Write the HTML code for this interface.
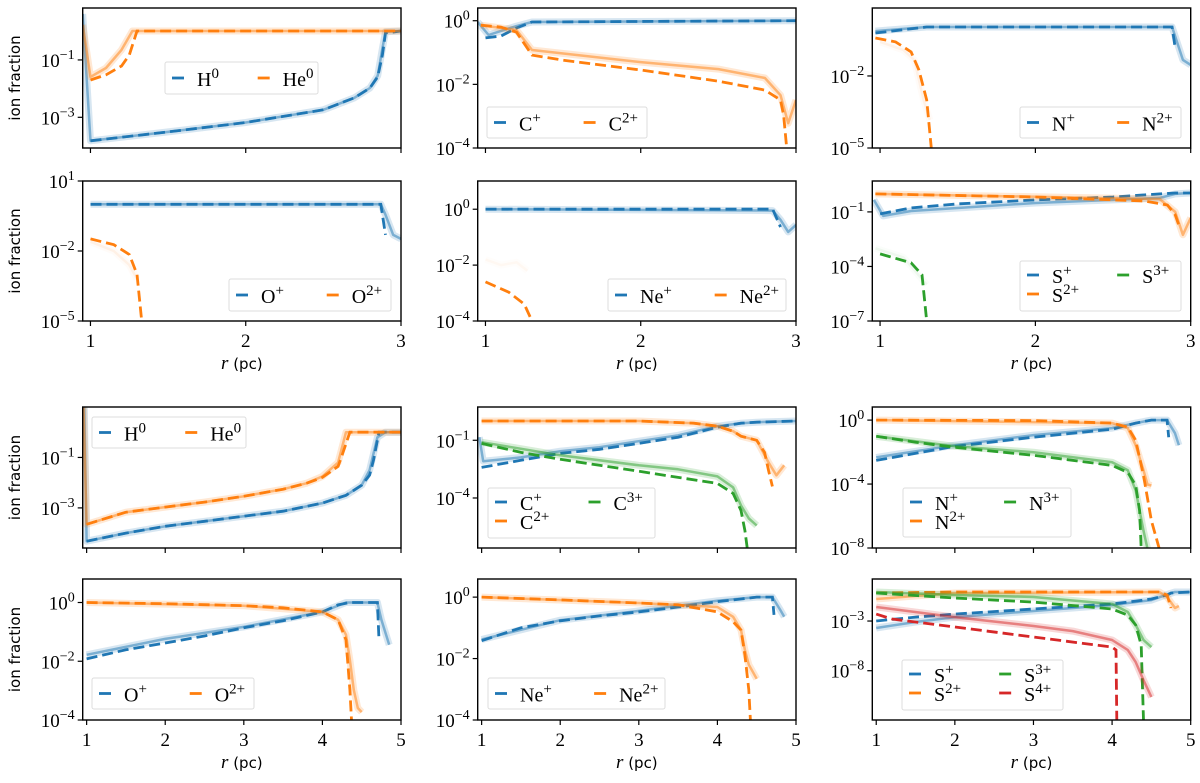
<!DOCTYPE html>
<html><head><meta charset="utf-8"><style>
body{margin:0;background:#fff}
svg{display:block}
.tk{font-family:"Liberation Serif",serif;font-size:19px;fill:#000}
.lg{font-family:"Liberation Serif",serif;font-size:20px;fill:#000}
.yl{font-family:"DejaVu Sans","Liberation Sans",sans-serif;font-size:15px;fill:#000}
</style></head><body>
<svg id="fig" width="1200" height="783" viewBox="0 0 1200 783" xmlns="http://www.w3.org/2000/svg"></svg>
<script>
// ---- data (r in pc, values are log10 ion fraction) ----
const p1_H0_r=[1,1.5,2,2.5,2.7,2.8,2.85,2.88,2.9,3], p1_H0_d=[-3.82,-3.51,-3.18,-2.74,-2.32,-1.98,-1.59,-0.83,-0.06,0.01];
const p1_H0_sr=[0.95,1,1.5,2,2.5,2.7,2.8,2.85,2.88,2.9,3], p1_H0_s=[0.6,-3.82,-3.51,-3.18,-2.74,-2.32,-1.98,-1.55,-0.6,-0.02,0.01];
const p1_He_r=[1,1.1,1.2,1.25,1.3,3], p1_He_d=[-1.7,-1.52,-1.21,-0.83,0.01,0.01];
const p1_He_sr=[0.95,1,1.1,1.2,1.27,3], p1_He_s=[0.22,-1.59,-1.28,-0.65,0.01,0.01];

const p2_C1_r=[1,1.1,1.2,1.3,3], p2_C1_d=[-0.54,-0.48,-0.23,-0.04,0];
const p2_C1_sr=[0.95,1.02,1.1,1.2,1.3,3], p2_C1_s=[-0.04,-0.45,-0.32,-0.17,-0.04,0];
const p2_C2_r=[0.97,1.1,1.2,1.3,1.5,2,2.5,2.8,2.9,2.92,2.94], p2_C2_d=[-0.14,-0.2,-0.36,-1.08,-1.24,-1.55,-1.9,-2.18,-2.49,-2.97,-4];
const p2_C2_sr=[0.97,1.2,1.3,2,2.5,2.8,2.9,2.95,3], p2_C2_s=[-0.14,-0.29,-0.92,-1.3,-1.52,-1.8,-2.34,-3.22,-2.49];

const p3_N1_r=[0.97,1.3,2.88,2.9], p3_N1_d=[-0.21,0.04,0.04,-0.83];
const p3_N1_sr=[0.97,1.3,2.88,2.95,3], p3_N1_s=[-0.13,0.04,0.04,-1.33,-1.54];
const p3_N2_r=[0.97,1.1,1.2,1.25,1.3,1.33], p3_N2_d=[-0.42,-0.58,-1,-1.75,-3,-5];
const p3_N2_sr=[1,1.15,1.22,1.28,1.32], p3_N2_s=[-0.58,-0.92,-1.33,-3,-3.83];

const p4_O1_r=[1,2.87,2.9], p4_O1_d=[0,0,-1.31];
const p4_O1_sr=[1,2.87,2.9,2.95,3], p4_O1_s=[0,0,-0.45,-1.31,-1.48];
const p4_O2_r=[1,1.15,1.25,1.3,1.33], p4_O2_d=[-1.48,-1.73,-2.15,-3,-5];
const p4_O2_sr=[1,1.15,1.25,1.3], p4_O2_s=[-1.6,-2,-2.6,-3.2];

const p5_Ne1_r=[1,2.85,2.9], p5_Ne1_d=[0,0,-0.64];
const p5_Ne1_sr=[1,2.85,2.9,2.95,3], p5_Ne1_s=[0,-0.05,-0.38,-0.81,-0.56];
const p5_Ne2_r=[1,1.15,1.25,1.3], p5_Ne2_d=[-2.6,-2.97,-3.4,-4];
const p5_Ne2_sr=[1,1.1,1.2,1.27], p5_Ne2_s=[-1.8,-2.0,-1.9,-2.2];

const p6_S1_r=[1,1.2,1.5,2,2.5,2.8,2.9,3], p6_S1_d=[-1.11,-0.78,-0.56,-0.34,-0.18,-0.01,0.04,0.04];
const p6_S1_sr=[0.96,1.02,1.2,2,2.5,2.8,2.9,3], p6_S1_s=[-0.34,-1.22,-0.95,-0.51,-0.34,-0.23,-0.01,0.04];
const p6_S2_r=[0.97,2,2.7,2.85,2.9,2.93], p6_S2_d=[-0.01,-0.18,-0.4,-0.62,-1.16,-1.88];
const p6_S2_sr=[0.97,2.8,2.9,2.95,3], p6_S2_s=[-0.01,-0.29,-1,-2.26,-1.33];
const p6_S3_r=[1,1.2,1.27,1.3], p6_S3_d=[-3.31,-3.8,-4.46,-7];
const p6_S3_sr=[0.97,1.15,1.25,1.3], p6_S3_s=[-3,-3.5,-4.5,-5];

const p7_H0_r=[1,1.5,2,2.5,3,3.5,4,4.3,4.5,4.6,4.65,4.72,5], p7_H0_d=[-4.32,-4.0,-3.73,-3.53,-3.33,-3.13,-2.81,-2.5,-2.1,-1.7,-1.11,0,0];
const p7_H0_sr=[0.97,1,1.5,2,2.5,3,3.5,4,4.3,4.5,4.6,4.7,4.8,5], p7_H0_s=[1.0,-4.32,-4.0,-3.73,-3.53,-3.33,-3.13,-2.81,-2.5,-2.1,-1.5,-0.2,0,0];
const p7_He_r=[1,1.5,2,2.5,3,3.5,3.8,4,4.2,4.25,4.35,5], p7_He_d=[-3.65,-3.17,-2.97,-2.77,-2.54,-2.26,-2.02,-1.79,-1.35,-0.91,0,0];
const p7_He_sr=[0.96,1,1.5,2,2.5,3,3.5,3.8,4,4.2,4.3,5], p7_He_s=[1.0,-3.65,-3.17,-2.97,-2.77,-2.54,-2.26,-2.02,-1.75,-1.2,0,0];

const p8_C1_r=[1,1.5,2,2.5,3,3.5,4,4.3,4.5,5], p8_C1_d=[-2.41,-2.04,-1.68,-1.47,-1.16,-0.84,-0.32,-0.11,-0.06,0];
const p8_C1_sr=[0.97,1.02,1.5,2,2.5,3,3.5,4,4.3,4.5,5], p8_C1_s=[-0.84,-2.09,-1.89,-1.57,-1.36,-1.05,-0.74,-0.27,-0.11,-0.06,0];
const p8_C2_r=[1,3,3.7,4,4.2,4.3,4.5,4.6,4.65,4.7], p8_C2_d=[0,0,-0.11,-0.27,-0.53,-0.79,-1,-1.63,-2.56,-3.4];
const p8_C2_sr=[1,3,3.7,4,4.2,4.3,4.5,4.65,4.75,4.85], p8_C2_s=[0,0,-0.11,-0.27,-0.53,-0.79,-1,-2.15,-2.82,-2.3];
const p8_C3_r=[1,1.5,2,2.5,3,3.5,4,4.2,4.3,4.35,4.38], p8_C3_d=[-1.16,-1.63,-1.99,-2.3,-2.61,-2.93,-3.24,-3.76,-4.65,-5.69,-6.63];
const p8_C3_sr=[1,2,3,3.5,4,4.2,4.3,4.4,4.5], p8_C3_s=[-1.1,-1.78,-2.3,-2.51,-2.88,-3.45,-4.39,-5.06,-5.43];

const p9_N1_r=[1,2,3,4,4.3,4.5,4.7,4.72], p9_N1_d=[-2.52,-1.64,-1.07,-0.57,-0.19,0,0,-1.07];
const p9_N1_sr=[1,2,3,4,4.3,4.5,4.7,4.8,4.85], p9_N1_s=[-2.33,-1.57,-0.94,-0.5,-0.19,0,0,-0.82,-1.57];
const p9_N2_r=[1,3,4,4.2,4.3,4.4,4.5,4.6], p9_N2_d=[0,-0.03,-0.19,-0.44,-1.26,-3.46,-6.29,-8.05];
const p9_N2_sr=[1,4,4.2,4.3,4.4,4.45,4.5], p9_N2_s=[0,-0.19,-0.5,-1.57,-3.14,-4.03,-4.09];
const p9_N3_r=[1,1.5,2,3,4,4.2,4.3,4.35,4.37], p9_N3_d=[-1.01,-1.38,-1.7,-2.2,-2.83,-3.27,-4.09,-5.66,-8.05];
const p9_N3_sr=[1,2,3,4,4.2,4.3,4.4,4.45], p9_N3_s=[-1.01,-1.64,-2.01,-2.64,-3.14,-4.4,-6.92,-8.05];

const p10_O1_r=[1,1.5,2,2.5,3,3.5,4,4.2,4.35,4.7,4.72], p10_O1_d=[-1.92,-1.61,-1.38,-1.14,-0.86,-0.62,-0.32,-0.08,0,0,-1.27];
const p10_O1_sr=[1,2,3,4,4.3,4.7,4.75,4.85], p10_O1_s=[-1.78,-1.24,-0.83,-0.32,0,0,-0.59,-1.44];
const p10_O2_r=[1,2,3,3.5,4,4.2,4.3,4.35,4.37], p10_O2_d=[0,-0.04,-0.11,-0.18,-0.32,-0.59,-1.27,-2.98,-4];
const p10_O2_sr=[1,3,4,4.2,4.3,4.35,4.4,4.45,4.5], p10_O2_s=[0,-0.11,-0.32,-0.59,-1.1,-1.96,-2.98,-3.59,-3.73];

const p11_Ne1_r=[1,1.5,2,2.5,3,3.5,4,4.3,4.5,4.7,4.72], p11_Ne1_d=[-1.42,-1,-0.77,-0.61,-0.48,-0.32,-0.15,-0.06,0,0,-0.58];
const p11_Ne1_sr=[1,2,3,4,4.5,4.7,4.8,4.85], p11_Ne1_s=[-1.38,-0.75,-0.45,-0.12,0,0,-0.42,-0.64];
const p11_Ne2_r=[1,2,3,3.5,4,4.2,4.3,4.35,4.4,4.42], p11_Ne2_d=[0,-0.09,-0.19,-0.25,-0.48,-0.8,-1.07,-1.88,-3.02,-4];
const p11_Ne2_sr=[1,3,4,4.2,4.3,4.35,4.4,4.5], p11_Ne2_s=[0,-0.19,-0.32,-0.64,-1.07,-1.72,-2.2,-2.66];

const p12_S1_r=[1,1.5,2,3,4,4.3,4.5,4.7,4.75,5], p12_S1_d=[-3,-2.6,-2.3,-1.79,-1.29,-0.99,-0.78,-0.38,-0.18,-0.08];
const p12_S1_sr=[1,1.5,2,3,4,4.5,4.72,4.8,5], p12_S1_s=[-3.7,-3.1,-2.6,-1.99,-1.39,-0.89,-0.28,-0.08,-0.08];
const p12_S2_r=[1,2,4.6,4.7,4.75], p12_S2_d=[-0.18,-0.08,-0.08,-0.38,-1.69];
const p12_S2_sr=[1,2,4.6,4.7,4.8,4.85], p12_S2_s=[-0.78,-0.18,-0.08,-0.58,-1.69,-1.49];
const p12_S3_r=[1,2,3,4,4.2,4.3,4.37,4.4], p12_S3_d=[-0.18,-0.68,-1.09,-1.79,-2.4,-3.4,-5.42,-12.97];
const p12_S3_sr=[1,2,3,4,4.2,4.3,4.4,4.5], p12_S3_s=[-0.08,-0.38,-0.58,-1.29,-2.09,-3.4,-4.91,-5.62];
const p12_S4_r=[1,1.2,2,3,4,4.05,4.06], p12_S4_d=[-2.3,-2.8,-3.6,-4.61,-5.62,-5.92,-12.97];
const p12_S4_sr=[1,2,3,3.5,4,4.2,4.3,4.4,4.5], p12_S4_s=[-1.59,-2.6,-3.5,-4.01,-4.91,-5.92,-7.13,-8.94,-10.65];

const xTicksTop=[1,2,3], xTicksBot=[1,2,3,4,5];

const B='#1f77b4',O='#ff7f0e',G='#2ca02c',R='#d62728';
const cols=[[82.7,401],[477.7,796],[872.3,1190.7]];
const rows=[[8,148],[181,321],[407,548],[579,720]];

const panels=[
 {n:'h-he-top',c:0,r:0,x:[0.95,3],y:[-4.07,0.81],yt:[-3,-1],xt:xTicksTop,lab:false,
  s:[[B,p1_H0_r,p1_H0_d,p1_H0_sr,p1_H0_s,'H','0'],[O,p1_He_r,p1_He_d,p1_He_sr,p1_He_s,'He','0']],
  lg:[165,62,153,32,2]},
 {n:'carbon-top',c:1,r:0,x:[0.95,3],y:[-4,0.4],yt:[-4,-2,0],xt:xTicksTop,lab:false,
  s:[[B,p2_C1_r,p2_C1_d,p2_C1_sr,p2_C1_s,'C','+'],[O,p2_C2_r,p2_C2_d,p2_C2_sr,p2_C2_s,'C','2+']],
  lg:[487,107,160,31,2]},
 {n:'nitrogen-top',c:2,r:0,x:[0.95,3],y:[-5,0.83],yt:[-5,-2],xt:xTicksTop,lab:false,
  s:[[B,p3_N1_r,p3_N1_d,p3_N1_sr,p3_N1_s,'N','+'],[O,p3_N2_r,p3_N2_d,p3_N2_sr,p3_N2_s,'N','2+',0.15]],
  lg:[1020,107,161,31,2]},
 {n:'oxygen-top',c:0,r:1,x:[0.95,3],y:[-5,1],yt:[-5,-2,1],xt:xTicksTop,lab:true,
  s:[[B,p4_O1_r,p4_O1_d,p4_O1_sr,p4_O1_s,'O','+'],[O,p4_O2_r,p4_O2_d,p4_O2_sr,p4_O2_s,'O','2+',0.15]],
  lg:[229,279,162,32,2]},
 {n:'neon-top',c:1,r:1,x:[0.95,3],y:[-4,1.01],yt:[-4,-2,0],xt:xTicksTop,lab:true,
  s:[[B,p5_Ne1_r,p5_Ne1_d,p5_Ne1_sr,p5_Ne1_s,'Ne','+'],[O,p5_Ne2_r,p5_Ne2_d,p5_Ne2_sr,p5_Ne2_s,'Ne','2+',0.08]],
  lg:[608,279,178,32,2]},
 {n:'sulfur-top',c:2,r:1,x:[0.95,3],y:[-7,0.7],yt:[-7,-4,-1],xt:xTicksTop,lab:true,
  s:[[B,p6_S1_r,p6_S1_d,p6_S1_sr,p6_S1_s,'S','+'],[O,p6_S2_r,p6_S2_d,p6_S2_sr,p6_S2_s,'S','2+'],[G,p6_S3_r,p6_S3_d,p6_S3_sr,p6_S3_s,'S','3+',0.12]],
  lg:[1020,261,161,50,2]},
 {n:'h-he-bottom',c:0,r:2,x:[0.95,5],y:[-4.59,1.0],yt:[-3,-1],xt:xTicksBot,lab:false,
  s:[[B,p7_H0_r,p7_H0_d,p7_H0_sr,p7_H0_s,'H','0'],[O,p7_He_r,p7_He_d,p7_He_sr,p7_He_s,'He','0']],
  lg:[92,417,154,31,2]},
 {n:'carbon-bottom',c:1,r:2,x:[0.95,5],y:[-6.6,0.73],yt:[-4,-1],xt:xTicksBot,lab:false,
  s:[[B,p8_C1_r,p8_C1_d,p8_C1_sr,p8_C1_s,'C','+'],[O,p8_C2_r,p8_C2_d,p8_C2_sr,p8_C2_s,'C','2+'],[G,p8_C3_r,p8_C3_d,p8_C3_sr,p8_C3_s,'C','3+']],
  lg:[488,488,167,50,2]},
 {n:'nitrogen-bottom',c:2,r:2,x:[0.95,5],y:[-8,0.82],yt:[-8,-4,0],xt:xTicksBot,lab:false,
  s:[[B,p9_N1_r,p9_N1_d,p9_N1_sr,p9_N1_s,'N','+'],[O,p9_N2_r,p9_N2_d,p9_N2_sr,p9_N2_s,'N','2+'],[G,p9_N3_r,p9_N3_d,p9_N3_sr,p9_N3_s,'N','3+']],
  lg:[903,488,168,49,2]},
 {n:'oxygen-bottom',c:0,r:3,x:[0.95,5],y:[-4,0.8],yt:[-4,-2,0],xt:xTicksBot,lab:true,
  s:[[B,p10_O1_r,p10_O1_d,p10_O1_sr,p10_O1_s,'O','+'],[O,p10_O2_r,p10_O2_d,p10_O2_sr,p10_O2_s,'O','2+']],
  lg:[92,678,162,31,2]},
 {n:'neon-bottom',c:1,r:3,x:[0.95,5],y:[-4,0.59],yt:[-4,-2,0],xt:xTicksBot,lab:true,
  s:[[B,p11_Ne1_r,p11_Ne1_d,p11_Ne1_sr,p11_Ne1_s,'Ne','+'],[O,p11_Ne2_r,p11_Ne2_d,p11_Ne2_sr,p11_Ne2_s,'Ne','2+']],
  lg:[488,678,177,31,2]},
 {n:'sulfur-bottom',c:2,r:3,x:[0.95,5],y:[-12.96,1.23],yt:[-8,-3],xt:xTicksBot,lab:true,
  s:[[B,p12_S1_r,p12_S1_d,p12_S1_sr,p12_S1_s,'S','+'],[O,p12_S2_r,p12_S2_d,p12_S2_sr,p12_S2_s,'S','2+'],[G,p12_S3_r,p12_S3_d,p12_S3_sr,p12_S3_s,'S','3+'],[R,p12_S4_r,p12_S4_d,p12_S4_sr,p12_S4_s,'S','4+']],
  lg:[902,660,161,50,2]},
];

const NS='http://www.w3.org/2000/svg';
const fig=document.getElementById('fig');
function mk(tag,attrs,parent){const e=document.createElementNS(NS,tag);for(const k in attrs)e.setAttribute(k,attrs[k]);(parent||fig).appendChild(e);return e;}
function supText(parent,x,y,base,sup,cls,anchor,fs,dy){
  const t=mk('text',{x:x,y:y,'class':cls,'text-anchor':anchor||'start'},parent);
  t.appendChild(document.createTextNode(base));
  const s=mk('tspan',{dy:-(dy||8),'font-size':fs||13},t);s.textContent=sup;
  return t;
}
const defs=mk('defs',{});
panels.forEach((p,i)=>{
  const [X0,X1]=cols[p.c],[Y0,Y1]=rows[p.r];
  const sx=v=>X0+(v-p.x[0])/(p.x[1]-p.x[0])*(X1-X0);
  const sy=v=>Y1-(v-p.y[0])/(p.y[1]-p.y[0])*(Y1-Y0);
  const g=mk('g',{});
  
  
  const cp=mk('clipPath',{id:'cp'+i},defs);mk('rect',{x:X0,y:Y0,width:X1-X0,height:Y1-Y0},cp);
  const pg=mk('g',{'clip-path':'url(#cp'+i+')'},g);
  const pts=(rs,vs)=>rs.map((r,k)=>sx(r).toFixed(1)+','+sy(vs[k]).toFixed(1)).join(' ');
  p.s.forEach(s=>{
    const [col,dr,dv,sr,sv,el,ch,al]=s;
    const a=al===undefined?1:al;
    const band=mk('polyline',{points:pts(sr,sv),fill:'none',stroke:col,'stroke-width':7,'stroke-opacity':0.18*a,'stroke-linejoin':'round'},pg);
    
    
    const sl=mk('polyline',{points:pts(sr,sv),fill:'none',stroke:col,'stroke-width':2.5,'stroke-opacity':0.5*a,'stroke-linejoin':'round'},pg);
    
    
    const dl=mk('polyline',{points:pts(dr,dv),fill:'none',stroke:col,'stroke-width':2.8,'stroke-dasharray':'11,5'},pg);
    
    
  });
  const fr=mk('rect',{x:X0,y:Y0,width:X1-X0,height:Y1-Y0,fill:'none',stroke:'#000','stroke-width':1.4},g);
  
  
  p.xt.forEach(t=>{
    const x=sx(t);mk('line',{x1:x,x2:x,y1:Y1,y2:Y1+5,stroke:'#000','stroke-width':1.2},g);
    if(p.lab){const tl=mk('text',{x:x,y:Y1+26,'class':'tk','text-anchor':'middle'},g);tl.textContent=t;
      
      }
  });
  p.yt.forEach(t=>{
    const y=sy(t);mk('line',{x1:X0-5,x2:X0,y1:y,y2:y,stroke:'#000','stroke-width':1.2},g);
    const lbl=(t<0?'\u2212':'')+Math.abs(t);
    const tl=supText(g,X0-8,y+7,'10',lbl,'tk','end',14,8);
    
    
  });
  const [lx,ly,lw,lh]=p.lg;
  const lg=mk('g',{},g);
  
  
  mk('rect',{x:lx,y:ly,width:lw,height:lh,rx:2,fill:'#fff','fill-opacity':0.8,stroke:'#ddd','stroke-width':1},lg);
  const n=p.s.length;const two=n>2;
  p.s.forEach((s,k)=>{
    let colI,rowI;
    if(!two){colI=k;rowI=0;} else {colI=k<2?0:1;rowI=k<2?k:k-2;}
    const ex=lx+7+colI*(lw*0.56), ey=two? ly+14+rowI*19 : ly+lh/2;
    const h=mk('line',{x1:ex,x2:ex+12,y1:ey,y2:ey,stroke:s[0],'stroke-width':2.8},lg);
    
    
    const tx=supText(lg,ex+25,ey+8,s[5],s[6],'lg','start',15,8);
    
    
  });
  if(p.c===0){
    const yl=mk('text',{x:0,y:0,'class':'yl','text-anchor':'middle',transform:'translate(20,'+((Y0+Y1)/2)+') rotate(-90)'},g);
    yl.textContent='ion fraction';
    
    
  }
  if(p.lab){
    const xl=mk('text',{x:(X0+X1)/2,y:Y1+48,'text-anchor':'middle','class':'yl','font-size':17},g);
    const it=mk('tspan',{'font-family':'Liberation Serif,serif','font-style':'italic','font-size':19},xl);it.textContent='r';
    const rest=mk('tspan',{},xl);rest.textContent=' (pc)';
    
    
  }
});
</script>
</body></html>
